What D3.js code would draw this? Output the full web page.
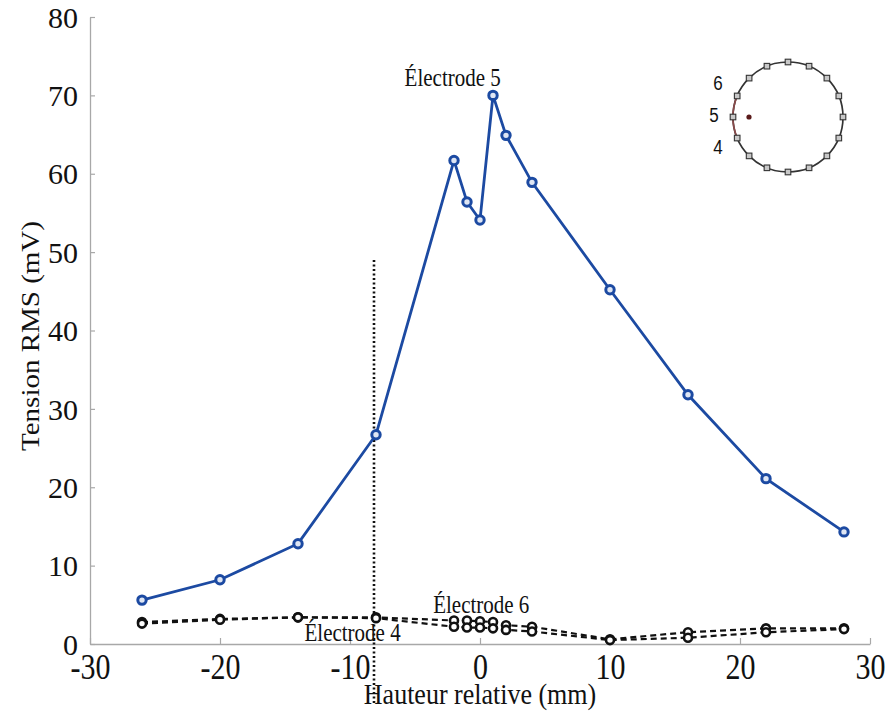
<!DOCTYPE html>
<html>
<head>
<meta charset="utf-8">
<script src="https://cdn.jsdelivr.net/npm/d3@7"></script>
<style>
  html, body { margin: 0; padding: 0; background: #fff; }
  svg { display: block; }
</style>
</head>
<body>
<svg id="chart" width="890" height="713"></svg>
<script>
// Relative height positions (mm)
const positions = [-26, -20, -14, -8, -2, -1, 0, 1, 2, 4, 10, 16, 22, 28];
// RMS voltage per electrode (mV)
const electrode5 = [5.6, 8.2, 12.8, 26.7, 61.7, 56.4, 54.1, 70.0, 64.9, 58.9, 45.2, 31.8, 21.1, 14.3];
const electrode6 = [2.8, 3.2, 3.4, 3.4, 3.0, 3.0, 2.9, 2.8, 2.4, 2.2, 0.6, 1.5, 2.0, 2.0];
const electrode4 = [2.6, 3.1, 3.4, 3.3, 2.2, 2.1, 2.1, 2.0, 1.8, 1.6, 0.5, 0.8, 1.5, 1.9];
const xTicks = [-30, -20, -10, 0, 10, 20, 30];
const yTicks = [0, 10, 20, 30, 40, 50, 60, 70, 80];
// Marker line at -8 mm, drawn from 49 mV down past the axis
const markerX = -8;
const markerTop = 49;
const markerBottom = -7.8;
// Electrode ring (16 electrodes), highlighted ones labelled
const ringCount = 16;
const ringLabels = [{text: "6", dx: -70, dy: -34}, {text: "5", dx: -74, dy: -2}, {text: "4", dx: -70, dy: 30}];

const svg = d3.select("#chart");
const x = d3.scaleLinear().domain([-30, 30]).range([90, 870]);
const y = d3.scaleLinear().domain([0, 80]).range([644, 17]);
const serif = "'Liberation Serif', 'Times New Roman', serif";
const stretch = 1.16; // glyphs are drawn slightly taller than wide

// Axes
const fmt = d => String(d);
const xAxis = d3.axisBottom(x).tickValues(xTicks).tickSizeInner(-6).tickSizeOuter(0).tickFormat(fmt);
const yAxis = d3.axisLeft(y).tickValues(yTicks).tickSizeInner(-5).tickSizeOuter(0).tickFormat(fmt);

const gx = svg.append("g").attr("transform", `translate(0,${y(0)})`).call(xAxis);
const gy = svg.append("g").attr("transform", `translate(${x(-30)},0)`).call(yAxis);
[gx, gy].forEach(g => {
  g.select(".domain").attr("stroke", "#a8a8a8").attr("stroke-width", 1.3);
  g.selectAll(".tick line").attr("stroke", "#a8a8a8").attr("stroke-width", 1.2);
  g.selectAll(".tick text").attr("font-family", serif).attr("font-size", 30).attr("fill", "#111")
    .attr("x", 0).attr("y", 0);
});
gx.selectAll(".tick text").attr("dy", 0).attr("transform", `translate(0,34.5) scale(1,${stretch})`);
gy.selectAll(".tick text").attr("dy", "0.34em").attr("transform", "translate(-12,0)");

// Axis titles
svg.append("text")
  .attr("transform", `translate(${x(0)},704) scale(1,${stretch})`)
  .attr("text-anchor", "middle")
  .attr("font-family", serif).attr("font-size", 26).attr("fill", "#111")
  .text("Hauteur relative (mm)");
svg.append("text")
  .attr("transform", `translate(39,336) scale(1,${stretch}) rotate(-90)`)
  .attr("text-anchor", "middle")
  .attr("font-family", serif).attr("font-size", 25).attr("fill", "#111")
  .text("Tension RMS (mV)");

// Vertical dotted reference line
svg.append("line")
  .attr("x1", x(markerX) - 2).attr("x2", x(markerX) - 2)
  .attr("y1", y(markerTop)).attr("y2", y(markerBottom))
  .attr("stroke", "#111").attr("stroke-width", 2.6)
  .attr("stroke-dasharray", "2,2.5");

const line = d3.line().x((d, i) => x(positions[i])).y(d => y(d));

// Neighbouring electrodes (dashed)
[electrode6, electrode4].forEach(series => {
  svg.append("path").datum(series)
    .attr("d", line)
    .attr("fill", "none").attr("stroke", "#111")
    .attr("stroke-width", 2.2).attr("stroke-dasharray", "6,4");
  svg.append("g").selectAll("circle").data(series).join("circle")
    .attr("cx", (d, i) => x(positions[i])).attr("cy", d => y(d))
    .attr("r", 4)
    .attr("fill", "#fff").attr("stroke", "#111").attr("stroke-width", 2.6);
});

// Electrode 5 (solid blue)
const blue = "#1c4aa2";
svg.append("path").datum(electrode5)
  .attr("d", line)
  .attr("fill", "none").attr("stroke", blue).attr("stroke-width", 2.8);
svg.append("g").selectAll("circle").data(electrode5).join("circle")
  .attr("cx", (d, i) => x(positions[i])).attr("cy", d => y(d))
  .attr("r", 4.2)
  .attr("fill", "#dfe6f4").attr("stroke", blue).attr("stroke-width", 3);

// Series annotations
const ann = [
  {text: "Électrode 5", xv: -5.8, yv: 71.2},
  {text: "Électrode 6", xv: -3.6, yv: 4.0},
  {text: "Électrode 4", xv: -13.5, yv: 0.35}
];
svg.append("g").selectAll("text").data(ann).join("text")
  .attr("transform", d => `translate(${x(d.xv)},${y(d.yv)}) scale(1,${stretch})`)
  .attr("font-family", serif).attr("font-size", 21).attr("fill", "#111")
  .text(d => d.text);

// Electrode ring inset
const cx = 788, cy = 117, R = 55;
const inset = svg.append("g");
inset.append("circle").attr("cx", cx).attr("cy", cy).attr("r", R)
  .attr("fill", "#fff").attr("stroke", "#333").attr("stroke-width", 1.7);
inset.append("path")
  .attr("d", d3.arc()({innerRadius: R, outerRadius: R, startAngle: -Math.PI * 0.62, endAngle: -Math.PI * 0.38}))
  .attr("transform", `translate(${cx},${cy})`)
  .attr("fill", "none").attr("stroke", "#8a4a4a").attr("stroke-width", 1.7);
d3.range(ringCount).forEach(i => {
  const a = i * 2 * Math.PI / ringCount;
  const px = cx + R * Math.sin(a), py = cy - R * Math.cos(a);
  inset.append("rect")
    .attr("x", px - 2.8).attr("y", py - 2.8).attr("width", 5.6).attr("height", 5.6)
    .attr("fill", "#c8c8c8").attr("stroke", "#333").attr("stroke-width", 1.1);
});
inset.append("circle").attr("cx", cx - 39).attr("cy", cy).attr("r", 2.6).attr("fill", "#5a1a1a");
ringLabels.forEach(l => {
  inset.append("text")
    .attr("transform", `translate(${cx + l.dx},${cy + l.dy}) scale(1,${stretch})`)
    .attr("dy", "0.36em").attr("text-anchor", "middle")
    .attr("font-family", "'Liberation Sans', Arial, sans-serif").attr("font-size", 17).attr("fill", "#111")
    .text(l.text);
});
</script>
</body>
</html>
